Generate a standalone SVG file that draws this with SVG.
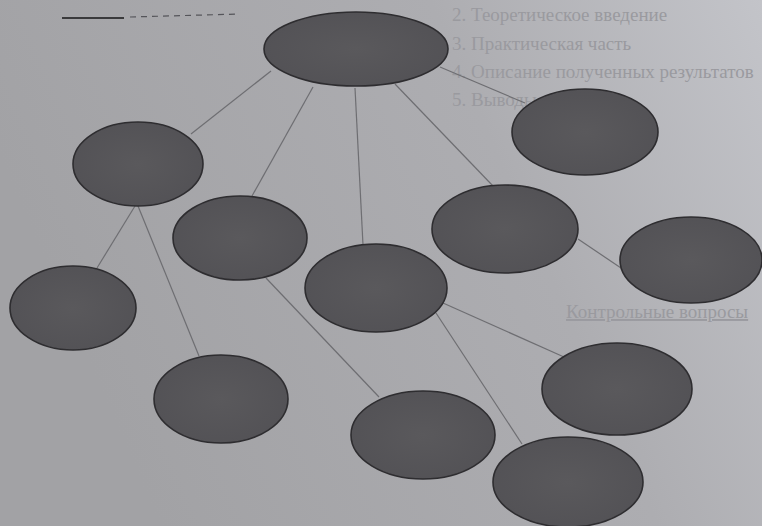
<svg xmlns="http://www.w3.org/2000/svg" width="762" height="526" viewBox="0 0 762 526">
<defs>
<linearGradient id="bg" x1="0" y1="0.3" x2="1" y2="0">
<stop offset="0" stop-color="#a2a2a5"/>
<stop offset="0.6" stop-color="#adadb1"/>
<stop offset="1" stop-color="#c3c4c9"/>
</linearGradient>
<radialGradient id="nf" cx="0.5" cy="0.5" r="0.6">
<stop offset="0" stop-color="#5a595c"/>
<stop offset="1" stop-color="#525155"/>
</radialGradient>
<style>
.n{fill:url(#nf);stroke:#2e2d30;stroke-width:1.6}
.c{stroke:#6e6e72;stroke-width:1.2;fill:none}
.bt{font-family:"Liberation Serif","DejaVu Serif",serif;font-size:19px;fill:#9a9a9f}
</style>
</defs>
<rect width="762" height="526" fill="url(#bg)"/>
<g id="page-text">
<text class="bt" x="452" y="21">2. Теоретическое введение</text>
<text class="bt" x="452" y="50">3. Практическая часть</text>
<text class="bt" x="452" y="78">4. Описание полученных результатов</text>
<text class="bt" x="452" y="106">5. Выводы по работе</text>
<text class="bt" x="566" y="318" text-decoration="underline">Контрольные вопросы</text>
<line x1="62" y1="18" x2="124" y2="18" stroke="#3a3a3c" stroke-width="2"/>
<line x1="130" y1="17" x2="240" y2="14" stroke="#55555a" stroke-width="1.2" stroke-dasharray="6 5"/>
</g>
<g id="connectors">
<line class="c" x1="271" y1="71" x2="191" y2="134"/>
<line class="c" x1="313" y1="87" x2="252" y2="196"/>
<line class="c" x1="355" y1="88" x2="363" y2="245"/>
<line class="c" x1="395" y1="84" x2="493" y2="186"/>
<line class="c" x1="440" y1="67" x2="525" y2="103"/>
<line class="c" x1="135" y1="206" x2="97" y2="268"/>
<line class="c" x1="138" y1="206" x2="199" y2="356"/>
<line class="c" x1="266" y1="278" x2="379" y2="397"/>
<line class="c" x1="578" y1="239" x2="621" y2="268"/>
<line class="c" x1="443" y1="303" x2="564" y2="357"/>
<line class="c" x1="436" y1="313" x2="522" y2="444"/>
</g>
<g id="n1"><ellipse class="n" cx="356" cy="49" rx="92" ry="37"/></g>
<g id="n2"><ellipse class="n" cx="585" cy="132" rx="73" ry="43"/></g>
<g id="n3"><ellipse class="n" cx="138" cy="164" rx="65" ry="42"/></g>
<g id="n4"><ellipse class="n" cx="240" cy="238" rx="67" ry="42"/></g>
<g id="n5"><ellipse class="n" cx="505" cy="229" rx="73" ry="44"/></g>
<g id="n6"><ellipse class="n" cx="691" cy="260" rx="71" ry="43"/></g>
<g id="n7"><ellipse class="n" cx="376" cy="288" rx="71" ry="44"/></g>
<g id="n8"><ellipse class="n" cx="73" cy="308" rx="63" ry="42"/></g>
<g id="n9"><ellipse class="n" cx="221" cy="399" rx="67" ry="44"/></g>
<g id="n10"><ellipse class="n" cx="617" cy="389" rx="75" ry="46"/></g>
<g id="n11"><ellipse class="n" cx="423" cy="435" rx="72" ry="44"/></g>
<g id="n12"><ellipse class="n" cx="568" cy="482" rx="75" ry="45"/></g>
</svg>
